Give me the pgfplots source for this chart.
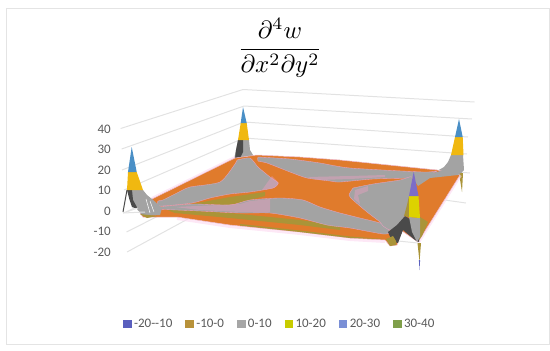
\documentclass[border=0pt]{standalone}
\usepackage{amsmath}
\usepackage{fontspec}
\setmainfont{Carlito}
\usepackage{pgfplots}
\pgfplotsset{compat=1.18}
\definecolor{txt}{HTML}{595959}
\definecolor{wall}{HTML}{E2E2E2}
\definecolor{frm}{HTML}{E4E4E4}
\definecolor{orng}{HTML}{E07B2C}
\definecolor{gry}{HTML}{A3A3A3}
\definecolor{dark}{HTML}{4A4A4A}
\definecolor{oliv}{HTML}{AA9438}
\definecolor{pnk}{HTML}{E8A0C0}
\definecolor{halo}{HTML}{FCD8F0}
\definecolor{blu}{HTML}{4A8FC6}
\definecolor{gold}{HTML}{F0B810}
\definecolor{purp}{HTML}{7C6CC8}
\definecolor{yel}{HTML}{DDD200}
\definecolor{lgA}{HTML}{5A5FBE}
\definecolor{lgB}{HTML}{B8923A}
\definecolor{lgC}{HTML}{A6A6A6}
\definecolor{lgD}{HTML}{C8CC00}
\definecolor{lgE}{HTML}{7A8FD6}
\definecolor{lgF}{HTML}{7F9F4A}
\begin{document}
\begin{tikzpicture}[x=1bp,y=1bp]
\path[use as bounding box] (0,0) rectangle (550,350);
\begin{axis}[
  at={(0,0)},anchor=south west,scale only axis,width=550bp,height=350bp,
  xmin=0,xmax=550,ymin=0,ymax=350,y dir=reverse,hide axis,clip=false,
]
% frame
\addplot[frm,line width=1bp] coordinates {(6,8.5)(549,8.5)(549,344)(6,344)} -- cycle;
% wall lines
\addplot[wall,line width=1bp] coordinates {(120.6,128.5)(243,89.5)(474.5,102)};
\addplot[wall,line width=1bp] coordinates {(121.6,149)(244,106)(472,119)};
\addplot[wall,line width=1bp] coordinates {(122,170)(244,122)(468,137)};
\addplot[wall,line width=1bp] coordinates {(124,190)(244,138)(467,154)};
\addplot[wall,line width=1bp] coordinates {(126,212)(245,155)(470,173)};
\addplot[wall,line width=1bp] coordinates {(126.6,232)(245,172)(466,203)};
\addplot[wall,line width=1bp] coordinates {(127,252)(245,188)(430,215)};
% back-left peak
\addplot[fill=gry,draw=none] coordinates {(238,140)(249,140)(250,150)(253,155)(258,159)(234,159)(236,150)} -- cycle;
\addplot[fill=dark,draw=none] coordinates {(238,140)(243,140)(243,152)(240,158)(235,159)(236,150)} -- cycle;
\addplot[fill=gold,draw=none] coordinates {(240.7,123)(246.7,123)(249,140)(238,140)} -- cycle;
\addplot[fill=blu,draw=none] coordinates {(243,107)(246.7,123)(240.7,123)} -- cycle;
% back-right peak
\addplot[fill=gry,draw=none] coordinates {(451,155)(463,155)(464,170)(460,174)(437,171)(444,167)(448,162)} -- cycle;
\addplot[fill=gold,draw=none] coordinates {(455,137)(462.7,137)(463.5,155)(451,155)} -- cycle;
\addplot[fill=blu,draw=none] coordinates {(459,119)(462.7,137)(455,137)} -- cycle;
\addplot[fill=oliv,draw=none] coordinates {(459,173)(463,173)(462,192)} -- cycle;
% plate halo and plate
\addplot[draw=halo,line width=4bp,opacity=0.6] coordinates {(152,199)(235,158)} ;
\addplot[draw=halo,line width=4bp,opacity=0.6] coordinates {(460,175)(418,242)};
\addplot[draw=halo,line width=4bp,opacity=0.6] coordinates {(385,241)(350,239)(300,233)(230,226)(177,218)};
\addplot[fill=orng,draw=pnk!70!white,line width=0.5bp] coordinates {(152,199)(235,158)(257,155)(300,157)(340,160)(437,170)(460,175)(418,242)(402,231)(397,245)(390,246)(385,240)(350,238)(300,232)(230,225)(177,217)(157,217)(143,217)(140,213)} -- cycle;
% olive patches below the gray regions
\addplot[fill=oliv,draw=none] coordinates {(192,204)(230,197)(265,192)(265,196)(230,205)} -- cycle;
\addplot[fill=oliv,draw=none] coordinates {(165,209)(230,213)(300,220)(340,226)(340,230)(300,225)(230,218)(175,213)} -- cycle;
\addplot[fill=oliv,draw=none] coordinates {(240,224)(300,230.5)(350,236.5)(385,239)(350,238)(300,232)(240,225.5)} -- cycle;
\addplot[fill=oliv,draw=none] coordinates {(160,201)(185,189)(215,183)(222,187)(190,193)(170,203)} -- cycle;
% gray regions
\addplot[fill=gry,draw=pnk,line width=0.35bp,smooth,tension=0.4] coordinates {(237,160)(250,158)(258,167)(270,177)(278,183)(273,188)(250,192)(230,194)(210,198)(192,203)(160,206)(158,201)(163,200)(177,193)(190,187)(220,182)(235,164)(237,160)};
\addplot[fill=gry,draw=pnk,line width=0.35bp,smooth,tension=0.4] coordinates {(157,207)(192,204)(230,205)(250,200)(280,198)(303,200)(320,207)(340,213)(360,218)(383,224)(390,232)(383,234)(350,228)(327,225)(300,218)(270,213)(240,213)(200,211)(157,209)(157,207)};
\addplot[fill=gry,draw=pnk,line width=0.35bp,smooth,tension=0.4] coordinates {(258,157)(290,159)(320,163)(350,168)(423,172)(437,171)(425,176)(410,178)(373,179)(340,182)(330,181)(307,178)(290,172)(267,163)(258,161)(258,157)};
\addplot[fill=gry,draw=pnk,line width=0.35bp,smooth,tension=0.4] coordinates {(353,188)(373,184)(400,180)(412,177)(412,193)(405,216)(392,230)(383,226)(380,222)(367,212)(353,200)(349,195)(353,188)};
\addplot[fill=gry,draw=none] coordinates {(412,177)(437,172)(450,168)(462,172)(458,175)(430,178)(418,186)} -- cycle;
% pink tint on the gray bands
\addplot[fill=pnk,draw=none,opacity=0.45] coordinates {(175,207)(240,204)(250,201)(270,199)(270,212)(240,212)(200,210)} -- cycle;
\addplot[fill=pnk,draw=none,opacity=0.45] coordinates {(272,176)(279,183)(274,188)(262,190)} -- cycle;
\addplot[fill=pnk,draw=none,opacity=0.45] coordinates {(355,190)(368,186)(368,191)(358,195)(360,204)(354,199)} -- cycle;
\addplot[fill=pnk,draw=none,opacity=0.45] coordinates {(307,177)(350,176)(385,175)(385,177)(350,179)(320,180)} -- cycle;
\addplot[fill=oliv,draw=none] coordinates {(420,217)(428,222)(422,236)(419,240)} -- cycle;
% left peak
\addplot[fill=gry,draw=none] coordinates {(127,190)(143,190)(147,195)(152,199)(162,208)(160,215)(143,216)(136,208)(132,200)} -- cycle;
\addplot[fill=dark,draw=none] coordinates {(127,190)(132,190)(133,200)(138,209)(132,207)(129,198)} -- cycle;
\addplot[dark,line width=1bp] coordinates {(123,212)(127,190)};
\addplot[fill=gold,draw=none] coordinates {(128,172)(136.7,172)(143,190)(127,190)} -- cycle;
\addplot[fill=blu,draw=none] coordinates {(131.7,147)(136.7,172)(128,172)} -- cycle;
\addplot[fill=oliv,draw=none] coordinates {(140,214)(157,216)(147,218)} -- cycle;
\addplot[white,line width=0.5bp] coordinates {(146,199)(150,213)};
\addplot[white,line width=0.5bp] coordinates {(150,201)(154,212)};
\addplot[wall,line width=1bp] coordinates {(123,213)(138,208)};
\addplot[wall,line width=1bp] coordinates {(123,213)(145,212)};
% front-right peak
\addplot[wall,line width=1bp] coordinates {(398,241)(418,243)};
\addplot[fill=dark,draw=none] coordinates {(388,232)(397,225)(405,216)(420,225)(419,242)(415,240)(403,230)(398,243)(392,241)} -- cycle;
\addplot[fill=oliv,draw=none] coordinates {(386,239)(393,236)(396,241)(396,245)(390,246)} -- cycle;
\addplot[fill=gry,draw=none] coordinates {(409,217)(420,218)(420,237)(417,242)(412,232)} -- cycle;
\addplot[fill=oliv,draw=none] coordinates {(404,216)(407,205)(409,196)(409,217)} -- cycle;
\addplot[fill=yel,draw=none] coordinates {(409,196)(418.5,196)(420,218)(409,217)} -- cycle;
\addplot[fill=purp,draw=none] coordinates {(413.7,171.7)(418.5,196)(409,196)} -- cycle;
\addplot[fill=oliv,draw=none] coordinates {(417.5,243)(421,243)(419.5,262)} -- cycle;
\addplot[fill=lgA,draw=none] coordinates {(418.9,260)(420.1,260)(419.5,270)} -- cycle;
% title
\node[text=black,scale=2.5] at (axis cs:280,48) {\(\dfrac{\partial^{4} w}{\partial x^{2}\partial y^{2}}\)};
\end{axis}
\begin{axis}[
  at={(111bp,98bp)},anchor=south west,scale only axis,width=5bp,height=123bp,
  xmin=0,xmax=1,ymin=-20,ymax=40,
  axis x line=none,axis y line=left,y axis line style={draw=none},
  ytick={-20,-10,0,10,20,30,40},yticklabels={-20,-10,0,10,20,30,40},
  major tick length=0pt,
  yticklabel style={font=\fontsize{13bp}{15bp}\selectfont,text=txt,inner sep=0pt},
  legend columns=6,
  legend image code/.code={\fill[#1] (0bp,0bp) rectangle (7.5bp,7.5bp);\path (10.5bp,0);},
  legend entries={-20-\kern0pt-10,-10-0,0-10,10-20,20-30,30-40},
  legend style={draw=none,fill=none,at={(2.4,-0.585)},anchor=west,inner sep=0pt,
    nodes={inner sep=0pt,font=\fontsize{13bp}{15bp}\selectfont,text=txt,anchor=base west},
    /tikz/every even column/.append style={column sep=13bp}},
]
\addlegendimage{lgA}
\addlegendimage{lgB}
\addlegendimage{lgC}
\addlegendimage{lgD}
\addlegendimage{lgE}
\addlegendimage{lgF}
\end{axis}
\end{tikzpicture}
\end{document}
